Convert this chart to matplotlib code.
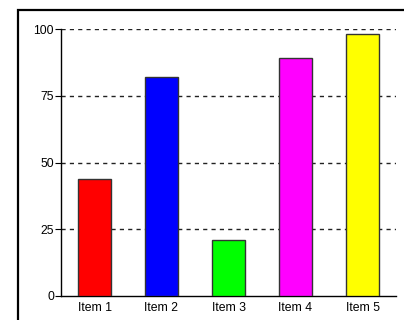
import matplotlib
matplotlib.use("Agg")
import matplotlib.pyplot as plt
from matplotlib.patches import Rectangle

# dane
kategorie = ["Item 1", "Item 2", "Item 3", "Item 4", "Item 5"]
wartosci = [44, 82, 21, 89, 98]
kolory = ["#ff0000", "#0000ff", "#00ff00", "#ff00ff", "#ffff00"]
y_ticks = [0, 25, 50, 75, 100]

plt.rcParams['font.family'] = ['Liberation Sans', 'DejaVu Sans']

fig = plt.figure(figsize=(4.04, 3.2), dpi=100)
ax = fig.add_axes([61 / 404, 1 - 296 / 320, 335 / 404, 267 / 320])

# ramka dookoła wykresu (lewa i górna krawędź widoczne)
fig.patches.append(Rectangle((17.5 / 404, -0.1), 1.2, 1.1 - 10 / 320,
                             transform=fig.transFigure, fill=False,
                             edgecolor='black', linewidth=1.6))

x = range(len(kategorie))
ax.bar(x, wartosci, width=0.48, color=kolory, edgecolor='#333333',
       linewidth=1.0, zorder=3)

ax.set_xlim(-0.5, len(kategorie) - 0.5)
ax.set_ylim(0, 100)
ax.set_yticks(y_ticks)
ax.set_yticklabels([str(v) for v in y_ticks])
ax.set_xticks(list(x))
ax.set_xticklabels(kategorie)

ax.tick_params(axis='y', length=4, width=0.8, pad=1, labelsize=8.8, colors='black')
ax.tick_params(axis='x', length=0, pad=4, labelsize=8.8, colors='black')

for v in y_ticks[1:]:
    ax.axhline(v, color='#222222', linestyle=(0, (3, 3)), linewidth=1.0, zorder=1)

for s in ['top', 'right']:
    ax.spines[s].set_visible(False)
ax.spines['left'].set_linewidth(1.0)
ax.spines['bottom'].set_linewidth(1.0)

plt.savefig("out.png", dpi=100)
